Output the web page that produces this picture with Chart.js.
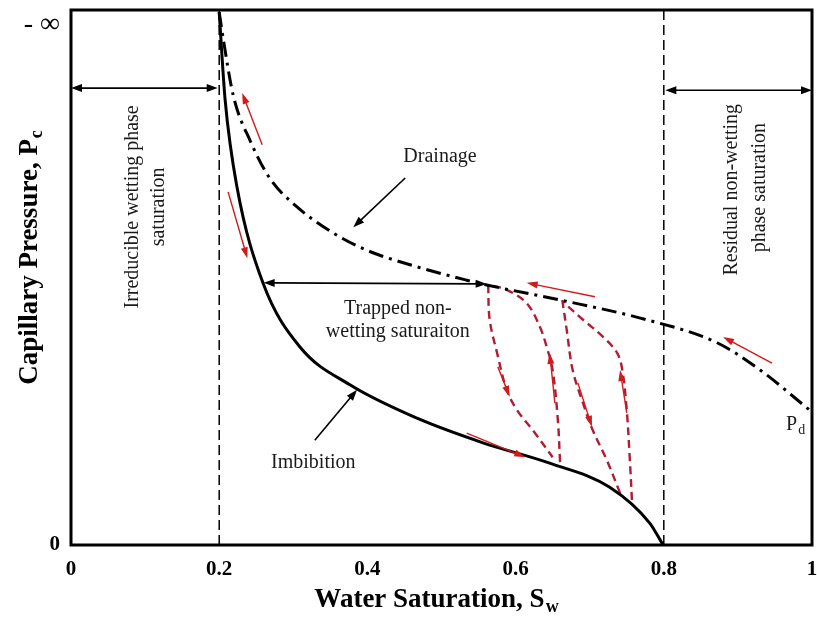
<!DOCTYPE html>
<html>
<head>
<meta charset="utf-8">
<script src="https://cdn.jsdelivr.net/npm/chart.js@4.4.1/dist/chart.umd.min.js"></script>
<style>
html,body{margin:0;padding:0;background:#fff;}
#wrap{width:817px;height:617px;}
</style>
</head>
<body>
<div id="wrap"><canvas id="c" width="817" height="617"></canvas></div>
<script>
// ---- data (Sw, normalised Pc; top of the axis = -infinity) ----
const xTicks = [0, 0.2, 0.4, 0.6, 0.8, 1];
const yTickValues = [0, 0.972];
const yTickLabels = ['0', '- \u221E'];

const irreducibleSw = 0.2;
const residualSw = 0.8;

const imbibitionX = [0.200, 0.208, 0.224, 0.259, 0.309, 0.377, 0.467, 0.556, 0.646, 0.727, 0.781, 0.799];
const imbibitionY = [0.996, 0.832, 0.669, 0.490, 0.370, 0.299, 0.237, 0.191, 0.153, 0.108, 0.041, 0.000];

const drainageX = [0.200, 0.205, 0.219, 0.242, 0.269, 0.305, 0.354, 0.399, 0.467, 0.534, 0.561, 0.660, 0.777, 0.872, 0.930, 0.997];
const drainageY = [0.996, 0.950, 0.840, 0.755, 0.684, 0.632, 0.583, 0.551, 0.520, 0.495, 0.486, 0.458, 0.421, 0.378, 0.327, 0.252];

const scan1DownX = [0.563, 0.565, 0.575, 0.588, 0.602, 0.623, 0.650];
const scan1DownY = [0.486, 0.421, 0.359, 0.290, 0.252, 0.215, 0.164];
const scan1UpX = [0.660, 0.657, 0.650, 0.642, 0.633, 0.615, 0.588, 0.565];
const scan1UpY = [0.155, 0.234, 0.327, 0.370, 0.407, 0.452, 0.477, 0.486];
const scan2DownX = [0.663, 0.669, 0.677, 0.691, 0.704, 0.723, 0.741];
const scan2DownY = [0.458, 0.402, 0.327, 0.265, 0.215, 0.159, 0.097];
const scan2UpX = [0.757, 0.754, 0.750, 0.744, 0.737, 0.718, 0.691, 0.664];
const scan2UpY = [0.084, 0.164, 0.252, 0.327, 0.359, 0.389, 0.421, 0.454];

// black arrows: x1, y1, x2, y2, head at start, head at end
const blackArrows = [
  [0.000, 0.854, 0.198, 0.854, true, true],
  [0.802, 0.850, 1.000, 0.850, true, true],
  [0.260, 0.490, 0.561, 0.488, true, true],
  [0.451, 0.686, 0.381, 0.594, false, true],
  [0.329, 0.196, 0.386, 0.290, false, true]
];
// red direction arrows: x1, y1, x2, y2 (head at end)
const redArrows = [
  [0.258, 0.748, 0.231, 0.845],
  [0.212, 0.660, 0.238, 0.536],
  [0.534, 0.209, 0.613, 0.164],
  [0.707, 0.464, 0.615, 0.490],
  [0.576, 0.333, 0.592, 0.277],
  [0.653, 0.265, 0.646, 0.359],
  [0.684, 0.303, 0.703, 0.221],
  [0.750, 0.247, 0.741, 0.327],
  [0.946, 0.340, 0.880, 0.389]
];
// labels: text, x, y, rotated
const labels = [
  ['Drainage', 0.498, 0.725, false],
  ['Imbibition', 0.327, 0.153, false],
  ['Trapped non-', 0.441, 0.441, false],
  ['wetting saturaiton', 0.441, 0.398, false],
  ['Irreducible wetting phase', 0.084, 0.632, true],
  ['saturation', 0.118, 0.632, true],
  ['Residual non-wetting', 0.892, 0.664, true],
  ['phase saturation', 0.930, 0.668, true]
];
const pdLabel = ['P', 'd', 0.965, 0.225];

const pts = (xs, ys) => xs.map((v, i) => ({x: v, y: ys[i]}));

const SERIF = '"Liberation Serif", "Times New Roman", serif';
const DARKRED = '#b01c34';
const RED = '#d11a1a';

function drawArrow(ctx, x1, y1, x2, y2, color, lw, hs, he, hl, hw) {
  ctx.save();
  ctx.strokeStyle = color; ctx.fillStyle = color; ctx.lineWidth = lw;
  ctx.setLineDash([]);
  const ang = Math.atan2(y2 - y1, x2 - x1);
  const cx = Math.cos(ang), sy = Math.sin(ang);
  let sx1 = x1, sy1 = y1, sx2 = x2, sy2 = y2;
  if (hs) { sx1 += cx * hl * 0.8; sy1 += sy * hl * 0.8; }
  if (he) { sx2 -= cx * hl * 0.8; sy2 -= sy * hl * 0.8; }
  ctx.beginPath(); ctx.moveTo(sx1, sy1); ctx.lineTo(sx2, sy2); ctx.stroke();
  const head = (tx, ty, a) => {
    ctx.beginPath();
    ctx.moveTo(tx, ty);
    ctx.lineTo(tx - Math.cos(a) * hl + Math.sin(a) * hw / 2, ty - Math.sin(a) * hl - Math.cos(a) * hw / 2);
    ctx.lineTo(tx - Math.cos(a) * hl - Math.sin(a) * hw / 2, ty - Math.sin(a) * hl + Math.cos(a) * hw / 2);
    ctx.closePath(); ctx.fill();
  };
  if (he) head(x2, y2, ang);
  if (hs) head(x1, y1, ang + Math.PI);
  ctx.restore();
}

const annot = {
  id: 'annot',
  afterDatasetsDraw(chart) {
    const {ctx, scales: {x, y}} = chart;
    const px = v => x.getPixelForValue(v), py = v => y.getPixelForValue(v);
    blackArrows.forEach(r => drawArrow(ctx, px(r[0]), py(r[1]), px(r[2]), py(r[3]), '#000', 1.6, r[4], r[5], 11, 8));
    redArrows.forEach(r => drawArrow(ctx, px(r[0]), py(r[1]), px(r[2]), py(r[3]), RED, 1.4, false, true, 11, 7));
    ctx.save();
    ctx.fillStyle = '#1a1a1a';
    ctx.font = '20px ' + SERIF;
    ctx.textAlign = 'center'; ctx.textBaseline = 'middle';
    labels.forEach(l => {
      ctx.save();
      ctx.translate(px(l[1]), py(l[2]));
      if (l[3]) ctx.rotate(-Math.PI / 2);
      ctx.fillText(l[0], 0, 0);
      ctx.restore();
    });
    ctx.textAlign = 'left';
    const bx = px(pdLabel[2]), by = py(pdLabel[3]);
    ctx.font = '20px ' + SERIF;
    ctx.fillText(pdLabel[0], bx, by);
    const w = ctx.measureText(pdLabel[0]).width;
    ctx.font = '14px ' + SERIF;
    ctx.fillText(pdLabel[1], bx + w + 1, by + 6);
    ctx.restore();
  },
  afterDraw(chart) {
    const {ctx, chartArea: a} = chart;
    ctx.save();
    ctx.strokeStyle = '#000'; ctx.lineWidth = 3; ctx.setLineDash([]);
    ctx.strokeRect(a.left, a.top, a.right - a.left, a.bottom - a.top);
    ctx.fillStyle = '#000';
    ctx.textBaseline = 'alphabetic';
    const xt = 'Water Saturation, S', xs = 'w';
    ctx.font = 'bold 27px ' + SERIF;
    const w1 = ctx.measureText(xt).width;
    ctx.font = 'bold 18px ' + SERIF;
    const w2 = ctx.measureText(xs).width;
    const start = 436 - (w1 + w2) / 2;
    ctx.font = 'bold 27px ' + SERIF; ctx.textAlign = 'left';
    ctx.fillText(xt, start, 607);
    ctx.font = 'bold 18px ' + SERIF;
    ctx.fillText(xs, start + w1 + 1, 612);
    ctx.save();
    ctx.translate(37, 258);
    ctx.rotate(-Math.PI / 2);
    const yt = 'Capillary Pressure, P', ys = 'c';
    ctx.font = 'bold 27px ' + SERIF;
    const v1 = ctx.measureText(yt).width;
    ctx.font = 'bold 18px ' + SERIF;
    const v2 = ctx.measureText(ys).width;
    const s2 = -(v1 + v2) / 2;
    ctx.font = 'bold 27px ' + SERIF;
    ctx.fillText(yt, s2, 0);
    ctx.font = 'bold 18px ' + SERIF;
    ctx.fillText(ys, s2 + v1 + 1, 5);
    ctx.restore();
    ctx.restore();
  }
};

const lineDs = (data, color, width, dash, tension, mono) => ({
  data, showLine: true, borderColor: color, borderWidth: width, borderDash: dash,
  pointRadius: 0, pointHoverRadius: 0, tension: tension, fill: false,
  cubicInterpolationMode: mono ? 'monotone' : 'default'
});

new Chart(document.getElementById('c'), {
  type: 'scatter',
  data: {
    datasets: [
      lineDs(pts(imbibitionX, imbibitionY), '#000', 3, [], 0.4, true),
      lineDs(pts(drainageX, drainageY), '#000', 3, [15, 6, 3, 6], 0.4, true),
      lineDs(pts(scan1DownX, scan1DownY), DARKRED, 2.4, [8, 5], 0.35),
      lineDs(pts(scan1UpX, scan1UpY), DARKRED, 2.4, [8, 5], 0.35),
      lineDs(pts(scan2DownX, scan2DownY), DARKRED, 2.4, [8, 5], 0.35),
      lineDs(pts(scan2UpX, scan2UpY), DARKRED, 2.4, [8, 5], 0.35),
      lineDs([{x: irreducibleSw, y: 0}, {x: irreducibleSw, y: 1}], '#000', 1.5, [10, 5], 0),
      lineDs([{x: residualSw, y: 0}, {x: residualSw, y: 1}], '#000', 1.5, [10, 5], 0)
    ]
  },
  options: {
    responsive: false,
    animation: false,
    events: [],
    layout: {padding: {top: 10, right: 5, left: 0, bottom: 0}},
    plugins: {legend: {display: false}, tooltip: {enabled: false}},
    scales: {
      x: {
        type: 'linear', min: 0, max: 1,
        grid: {display: false, drawTicks: false},
        border: {display: false},
        afterBuildTicks: s => { s.ticks = xTicks.map(v => ({value: v})); },
        afterFit: s => { s.height = 72; s.paddingLeft = 0; s.paddingRight = 0; },
        ticks: {
          padding: 12, color: '#000', maxRotation: 0, autoSkip: false,
          font: {family: SERIF, size: 21, weight: 'bold'},
          callback: v => String(v)
        }
      },
      y: {
        type: 'linear', min: 0, max: 1,
        grid: {display: false, drawTicks: false},
        border: {display: false},
        afterBuildTicks: s => { s.ticks = yTickValues.map(v => ({value: v})); },
        afterFit: s => { s.width = 71; s.paddingTop = 0; s.paddingBottom = 0; },
        ticks: {
          padding: 11, color: '#000', autoSkip: false,
          font: c => c.index === 1
            ? {family: SERIF, size: 28, weight: 'normal'}
            : {family: SERIF, size: 21, weight: 'bold'},
          callback: (v, i) => yTickLabels[i]
        }
      }
    }
  },
  plugins: [annot]
});
</script>
</body>
</html>
